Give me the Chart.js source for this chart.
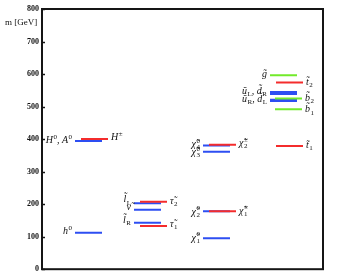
<!DOCTYPE html>
<html>
<head>
<meta charset="utf-8">
<script src="https://cdn.jsdelivr.net/npm/chart.js@4"></script>
<style>
  html, body { margin: 0; padding: 0; background: #fff; }
  canvas { display: block; }
</style>
</head>
<body>
<canvas id="spectrum" width="351" height="277"></canvas>
<script>
// Mass levels (GeV)
const levelNames  = ['h^0', 'H^0, A^0', 'H^±',
                     'l̃_L', 'ν̃', 'l̃_R', 'τ̃_1', 'τ̃_2',
                     'χ̃^0_1', 'χ̃^0_2', 'χ̃^0_3', 'χ̃^0_4', 'χ̃^±_1', 'χ̃^±_2',
                     'g̃', 'ũ_L, d̃_R', '', 'ũ_R, d̃_L', '', 't̃_1', 't̃_2', 'b̃_1', 'b̃_2'];
const levelMasses = [112, 394, 400,
                     203, 183, 143, 133, 207,
                     95, 178, 361, 380, 178, 383,
                     596, 545, 539, 521, 517, 379, 574, 492, 525];
// colour family and column for each level
const levelKinds  = ['blue', 'blue', 'red',
                     'blue', 'blue', 'blue', 'red', 'red',
                     'blue', 'blue', 'blue', 'blue', 'red', 'red',
                     'green', 'blue', 'blue', 'blue', 'blue', 'red', 'red', 'greenR', 'greenR'];
const levelColumn = [0, 0, 0,
                     1, 1, 1, 1, 1,
                     2, 2, 2, 2, 2, 2,
                     3, 3, 3, 3, 3, 3, 3, 3, 3];
const yTicks = [0, 100, 200, 300, 400, 500, 600, 700, 800];

// layout / style (pixels inside the plot area)
const columnStart = [33, 92, 161, 228];
const shiftRight = { blue: 0, green: 0, red: 6, greenR: 5 };
const segLen = 27;
const colors = { blue: '#2d4ef2', red: '#f42c2c', green: '#72ea2a', greenR: '#72ea2a' };
// label placement: side and vertical nudge
const labelSide = ['l', 'l', 'r',  'l', 'l', 'l', 'r', 'r',  'l', 'l', 'l', 'l', 'r', 'r',  'l', 'l', 'l', 'l', 'l', 'r', 'r', 'r', 'r'];
const labelDy   = [-2, -1, -2,  -4, -3, -3, -2, -1,  -1, 0, 0, -2, -1, -2,  -2, -1, 0, -1, 0, -1, -1, 0, -1];

const serif = '"Liberation Serif", "DejaVu Serif", serif';

// draw text with ^x superscripts and _x subscripts
function drawRich(ctx, str, x, y, align, size) {
    const runs = [];
    let i = 0;
    while (i < str.length) {
        const c = str[i];
        if (c === '^' || c === '_') {
            const run = { sup: '', sub: '' };
            while (i < str.length && (str[i] === '^' || str[i] === '_')) {
                if (str[i] === '^') run.sup = str[i + 1]; else run.sub = str[i + 1];
                i += 2;
            }
            runs.push(run);
        } else {
            let t = '';
            while (i < str.length && str[i] !== '^' && str[i] !== '_') { t += str[i]; i++; }
            runs.push({ text: t });
        }
    }
    const baseFont = 'italic ' + size + 'px ' + serif;
    const smallFont = Math.round(size * 0.7) + 'px ' + serif;
    let width = 0;
    runs.forEach(r => {
        if (r.text !== undefined) { ctx.font = baseFont; r.w = ctx.measureText(r.text).width; }
        else { ctx.font = smallFont; r.w = Math.max(ctx.measureText(r.sup).width, ctx.measureText(r.sub).width) + 0.5; }
        width += r.w;
    });
    let cx = align === 'right' ? x - width : x;
    const base = y + size * 0.33;
    ctx.textAlign = 'left';
    ctx.textBaseline = 'alphabetic';
    ctx.fillStyle = '#111';
    runs.forEach(r => {
        if (r.text !== undefined) {
            ctx.font = baseFont;
            ctx.fillText(r.text, cx, base);
        } else {
            ctx.font = smallFont;
            if (r.sup) ctx.fillText(r.sup, cx + 0.5, base - size * 0.42);
            if (r.sub) ctx.fillText(r.sub, cx + 0.5, base + size * 0.22);
        }
        cx += r.w;
    });
}

const framePlugin = {
    id: 'frame',
    afterDraw(chart) {
        const { ctx, chartArea: a, scales } = chart;
        ctx.save();
        ctx.strokeStyle = '#151515';
        ctx.lineWidth = 2;
        ctx.strokeRect(a.left, a.top, a.right - a.left, a.bottom - a.top);
        ctx.lineWidth = 1.5;
        yTicks.forEach(v => {
            const py = Math.round(scales.y.getPixelForValue(v)) + 0.5;
            ctx.beginPath();
            ctx.moveTo(a.left, py);
            ctx.lineTo(a.left + 3, py);
            ctx.stroke();
        });
        // axis title
        ctx.font = '9px ' + serif;
        ctx.fillStyle = '#111';
        ctx.textAlign = 'left';
        ctx.textBaseline = 'middle';
        ctx.fillText('m [GeV]', 5, 23);
        ctx.restore();
    }
};

const labelPlugin = {
    id: 'levelLabels',
    afterDatasetsDraw(chart) {
        const ctx = chart.ctx;
        ctx.save();
        levelNames.forEach((name, i) => {
            if (!name) return;
            const pts = chart.getDatasetMeta(i).data;
            const y = pts[0].y + labelDy[i];
            if (labelSide[i] === 'l') drawRich(ctx, name, pts[0].x - 3, y, 'right', 10);
            else drawRich(ctx, name, pts[1].x + 3, y, 'left', 10);
        });
        ctx.restore();
    }
};

const datasets = levelMasses.map((m, i) => {
    const x1 = columnStart[levelColumn[i]] + shiftRight[levelKinds[i]];
    return {
        label: levelNames[i],
        data: [{ x: x1, y: m }, { x: x1 + segLen, y: m }],
        borderColor: colors[levelKinds[i]],
        borderWidth: 2,
        pointRadius: 0,
        fill: false,
        order: levelKinds[i] === 'blue' ? 2 : 1
    };
});

new Chart(document.getElementById('spectrum').getContext('2d'), {
    type: 'line',
    data: { datasets: datasets },
    plugins: [framePlugin, labelPlugin],
    options: {
        responsive: false,
        animation: false,
        devicePixelRatio: 1,
        layout: { padding: { top: 9, right: 28, bottom: 5, left: 0 } },
        plugins: { legend: { display: false }, tooltip: { enabled: false } },
        scales: {
            x: { type: 'linear', min: 0, max: 281, display: false },
            y: {
                min: 0,
                max: 800,
                afterBuildTicks(scale) { scale.ticks = yTicks.map(v => ({ value: v })); },
                afterFit(scale) { scale.width = 42; },
                ticks: { color: '#111', padding: 3, font: { family: serif, size: 8, weight: 'bold' } },
                grid: { drawOnChartArea: false, drawTicks: false },
                border: { display: false }
            }
        }
    }
});
</script>
</body>
</html>
